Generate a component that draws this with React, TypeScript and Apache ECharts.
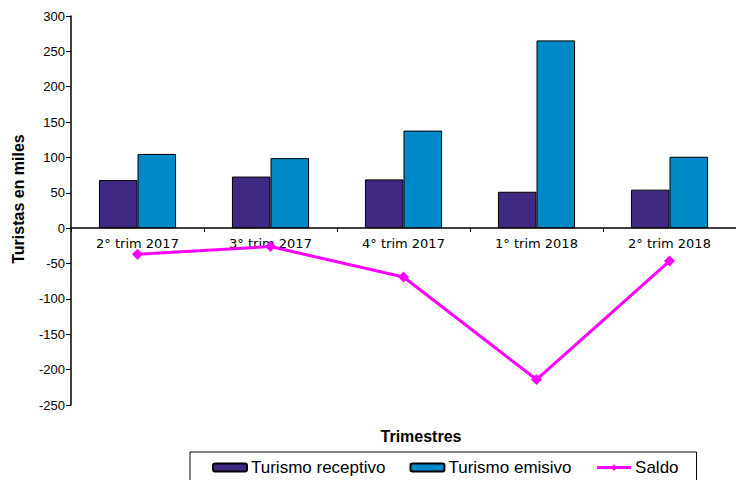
import React, { useEffect, useRef } from "react";
import * as echarts from "echarts";

const categories = ["2° trim 2017", "3° trim 2017", "4° trim 2017", "1° trim 2018", "2° trim 2018"];
const receptivo = [68, 73, 69, 51.5, 54.5];
const emisivo = [105, 99, 138, 265.5, 101];
const saldo = [-37, -26, -69, -214, -46.5];

export default function App() {
  const ref = useRef<HTMLDivElement>(null);
  useEffect(() => {
    if (!ref.current) return;
    const chart = echarts.init(ref.current, undefined, { renderer: "svg" });
    chart.setOption({
      animation: false,
      backgroundColor: "#ffffff",
      grid: { left: 71, top: 16, bottom: 75, right: -3, containLabel: false },
      xAxis: {
        type: "category",
        data: categories,
        offset: -177,
        axisLine: { onZero: false, lineStyle: { color: "#000", width: 1.5 } },
        axisTick: { show: true, length: 4, lineStyle: { color: "#000" } },
        axisLabel: { color: "#000", fontFamily: "DejaVu Sans", fontSize: 13, margin: 9 },
        splitLine: { show: false },
      },
      yAxis: {
        type: "value",
        min: -250,
        max: 300,
        interval: 50,
        axisLine: { show: true, lineStyle: { color: "#000", width: 1.5 } },
        axisTick: { show: true, length: 5, lineStyle: { color: "#000" } },
        axisLabel: { color: "#000", fontFamily: "Liberation Sans", fontSize: 13, margin: 6 },
        splitLine: { show: false },
      },
      legend: {
        left: 190,
        top: 452,
        orient: "horizontal",
        borderColor: "#000",
        borderWidth: 1,
        borderRadius: 0,
        padding: [7, 18, 10, 22],
        itemGap: 24,
        itemWidth: 34,
        itemHeight: 8,
        textStyle: { color: "#000", fontFamily: "Liberation Sans", fontSize: 17, padding: [0, 0, 0, -1] },
        data: [
          "Turismo receptivo",
          "Turismo emisivo",
          { name: "Saldo", lineStyle: { width: 3, color: "#FF00FF" } },
        ],
      },
      graphic: [
        {
          type: "text",
          x: 18,
          y: 199,
          rotation: Math.PI / 2,
          style: {
            text: "Turistas en miles",
            fontFamily: "Liberation Sans",
            fontWeight: "bold",
            fontSize: 16,
            fill: "#000",
            textAlign: "center",
            textVerticalAlign: "middle",
          },
        },
        {
          type: "text",
          x: 421,
          y: 436,
          style: {
            text: "Trimestres",
            fontFamily: "Liberation Sans",
            fontWeight: "bold",
            fontSize: 16,
            fill: "#000",
            textAlign: "center",
            textVerticalAlign: "middle",
          },
        },
      ],
      series: [
        {
          name: "Turismo receptivo",
          type: "bar",
          data: receptivo,
          barGap: "0%",
          barCategoryGap: "42%",
          itemStyle: { color: "#3F2983", borderColor: "#000", borderWidth: 1 },
        },
        {
          name: "Turismo emisivo",
          type: "bar",
          data: emisivo,
          barGap: "0%",
          barCategoryGap: "42%",
          itemStyle: { color: "#0089C9", borderColor: "#000", borderWidth: 1 },
        },
        {
          name: "Saldo",
          type: "line",
          data: saldo,
          symbol: "diamond",
          symbolSize: 11,
          lineStyle: { color: "#FF00FF", width: 3 },
          itemStyle: { color: "#FF00FF" },
          z: 5,
        },
      ],
    });
    return () => chart.dispose();
  }, []);
  return <div ref={ref} style={{ width: 736, height: 480, position: "absolute", left: 0, top: 0 }} />;
}
